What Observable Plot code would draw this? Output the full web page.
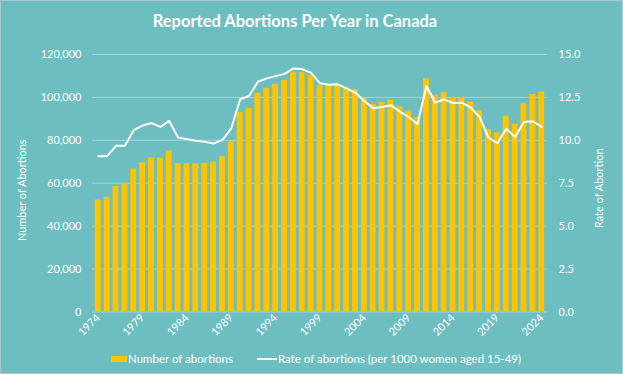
<!DOCTYPE html>
<html>
<head>
<meta charset="utf-8">
<script src="https://cdn.jsdelivr.net/npm/d3@7"></script>
<script src="https://cdn.jsdelivr.net/npm/@observablehq/plot@0.6"></script>
<style>
  html, body { margin: 0; padding: 0; }
  body { width: 623px; height: 374px; overflow: hidden; }
  #wrap { position: relative; width: 623px; height: 374px; background: #6dbec1; box-sizing: border-box; border: 1px solid #a9c9ca; font-family: Lato, "Open Sans", sans-serif; color: #ffffff; }
  #title { position: absolute; left: 0; top: 10px; width: 588px; text-align: center; font-size: 16.5px; font-weight: 700; color: #ffffff; }
  #chart { position: absolute; left: -1px; top: 39px; }
  .lg { position: absolute; font-size: 11.5px; color: #ffffff; line-height: 14px; white-space: nowrap; }
  .sw { position: absolute; left: 110px; top: 355px; width: 16px; height: 6px; background: #ffc300; }
  .ln { position: absolute; left: 256px; top: 357px; width: 20px; height: 2px; background: #ffffff; }
</style>
</head>
<body>
<div id="wrap">
  <div id="title">Reported Abortions Per Year in Canada</div>
  <div id="chart"></div>
  <span class="sw"></span><span class="lg" style="left:127px;top:351px">Number of abortions</span>
  <span class="ln"></span><span class="lg" style="left:277px;top:351px">Rate of abortions (per 1000 women aged 15-49)</span>
</div>
<script>
const years = [1974,1975,1976,1977,1978,1979,1980,1981,1982,1983,
  1984,1985,1986,1987,1988,1989,1990,1991,1992,1993,
  1994,1995,1996,1997,1998,1999,2000,2001,2002,2003,
  2004,2005,2006,2007,2008,2009,2010,2011,2012,2013,
  2014,2015,2016,2017,2018,2019,2020,2021,2022,2023,2024];
const abortions = [52200,53400,58500,59600,66600,69500,71800,71700,75000,69200,
  69200,69000,69300,69800,72400,79300,92900,94900,102000,104200,
  106100,107900,111500,111500,110200,105600,105600,105600,104500,103600,
  99400,96800,97700,98600,95700,93700,90600,108700,101000,102200,
  100000,100000,97700,93800,85000,83500,91300,87500,97100,101400,102500];
const rates = [9.08,9.08,9.68,9.68,10.59,10.86,11.01,10.78,11.13,10.16,
  10.07,9.97,9.91,9.81,10.03,10.70,12.39,12.58,13.41,13.61,
  13.74,13.87,14.19,14.15,13.93,13.32,13.24,13.26,13.03,12.77,
  12.29,11.87,11.94,12.04,11.67,11.36,10.94,13.16,12.19,12.39,
  12.17,12.19,11.90,11.36,10.16,9.83,10.68,10.20,11.07,11.11,10.78];
const leftTicks = [0,20000,40000,60000,80000,100000,120000];
const rightTicks = [0,2.5,5,7.5,10,12.5,15];
const xTickYears = [1974,1979,1984,1989,1994,1999,2004,2009,2014,2019,2024];
const leftTitle = "Number of Abortions";
const rightTitle = "Rate of Abortion";

const countMax = 120000, rateMax = 15;
const k = countMax / rateMax;
const data = years.map((y, i) => ({year: y, count: abortions[i], rate: rates[i], rateScaled: rates[i] * k}));

const chart = Plot.plot({
  width: 623,
  height: 306,
  marginTop: 14,
  marginBottom: 34,
  marginLeft: 92,
  marginRight: 75,
  style: {background: "transparent", color: "#ffffff", fontFamily: "Lato, 'Open Sans', sans-serif", fontSize: "11px"},
  x: {type: "band", domain: years, padding: 0.33},
  y: {domain: [0, countMax]},
  marks: [
    Plot.ruleY(leftTicks, {stroke: "#a6d6d8", strokeWidth: 1}),
    Plot.barY(data, {x: "year", y: "count", fill: "#ffc300"}),
    Plot.lineY(data, {x: "year", y: "rateScaled", stroke: "#ffffff", strokeWidth: 2}),
    Plot.axisY({anchor: "left", ticks: leftTicks, tickSize: 0, tickPadding: 11, tickFormat: d3.format(","), label: null, fontSize: 11}),
    Plot.axisY({anchor: "right", ticks: rightTicks.map(r => r * k), tickSize: 0, tickPadding: 11, tickFormat: d => (d / k).toFixed(1), label: null, fontSize: 11}),
    Plot.axisX({ticks: xTickYears, tickSize: 0, tickPadding: 4, tickRotate: -45, tickFormat: d => String(d), label: null, fontSize: 11}),
    Plot.text([leftTitle], {text: d => d, frameAnchor: "left", textAnchor: "middle", dx: -70, dy: 7, rotate: -90, fill: "#ffffff", fontSize: 11}),
    Plot.text([rightTitle], {text: d => d, frameAnchor: "right", textAnchor: "middle", dx: 52, dy: 5, rotate: -90, fill: "#ffffff", fontSize: 11})
  ]
});
document.getElementById("chart").appendChild(chart);
</script>
</body>
</html>
